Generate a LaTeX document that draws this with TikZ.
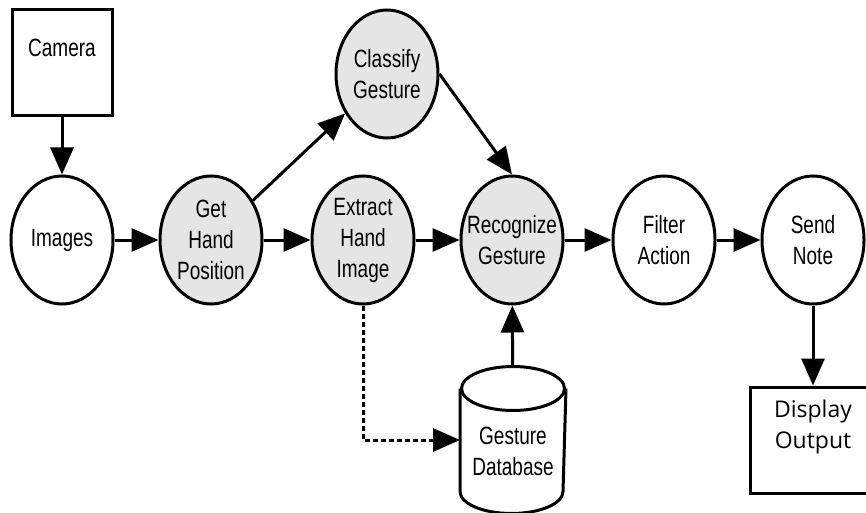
\documentclass[tikz,border=0pt]{standalone}
\usepackage{fontspec}
\setmainfont{Liberation Sans}[FakeStretch=0.76]
\newfontfamily\segoe{Open Sans}
\usepackage{tikz}
\usetikzlibrary{arrows.meta,calc,shapes.geometric,positioning}
\definecolor{lightgrey}{gray}{0.9}

\begin{document}
\begin{tikzpicture}[x=0.5pt,y=-0.5pt,line width=1.5pt,>={Triangle[length=13.5pt,width=11.5pt]}]

\tikzset{state/.style={shape=ellipse,draw,fill=white,inner sep=-8pt,minimum width=51pt,minimum height=64pt,align=center,font=\fontsize{12.5}{15.5}\selectfont},
greystate/.style={state,fill=lightgrey},
iobox/.style={draw,fill=white,inner sep=0pt,minimum width=50pt,minimum height=53pt,align=center,font=\fontsize{12.5}{15.5}\selectfont},
store/.style={inner sep=0pt,minimum width=51.5pt,minimum height=72pt}}

\useasboundingbox (0,0) rectangle (866,513);

% Input and output
\node[iobox] (cam) at (62,63) {Camera\\~};
\node[iobox,minimum width=63pt,font=\segoe\fontsize{11.5}{15.5}\selectfont] (disp) at (813,440) {Display\\Output\\~};

% Processing steps
\node[state] (img) at (62,240) {Images};
\node[greystate] (hand) at (211,240) {Get\\Hand\\Position};
\node[greystate] (clas) at (387,74) {Classify\\Gesture};
\node[greystate] (ext) at (363,240) {Extract\\Hand\\Image};
\node[greystate] (rec) at (512,240) {Recognize\\Gesture};
\node[state] (filt) at (664,240) {Filter\\Action};
\node[state] (send) at (813,240) {Send\\Note};

% Data store (cylinder)
\node[store] (db) at (513,440) {};
\draw[fill=white] ($(db.north west)+(0,22)$) -- ($(db.south west)+(0,-22)$) arc[start angle=180,end angle=360,x radius=25.75pt,y radius=11pt] -- ($(db.north east)+(0,22)$);
\draw[fill=white] ($(db.north)+(0,22)$) ellipse [x radius=25.75pt,y radius=11pt];
\node[align=center,font=\fontsize{12.5}{15.5}\selectfont] (dbtext) at ($(db)+(0,11)$) {Gesture\\Database};

% Edges
\draw[->] (cam) -- (img); \draw[->] (img) -- (hand); \draw[->] (hand) -- (clas); \draw[->] (clas.east) -- (rec.north);
\draw[->] (hand) -- (ext); \draw[->] (ext) -- (rec); \draw[->] (rec) -- (filt); \draw[->] (filt) -- (send);
\draw[->] (send) -- (disp); \draw[->] (db) -- (rec);
\draw[->,dash pattern=on 2.5pt off 1.5pt] (ext.south) |- (db.west);

\end{tikzpicture}
\end{document}
